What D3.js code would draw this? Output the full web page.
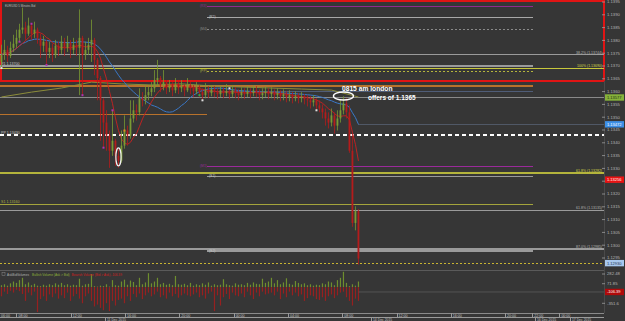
<!DOCTYPE html>
<html>
<head>
<meta charset="utf-8">
<script src="https://cdn.jsdelivr.net/npm/d3@7"></script>
<style>
html, body { margin: 0; padding: 0; background: #363636; overflow: hidden; }
svg { display: block; font-family: "Liberation Sans", Arial, sans-serif; }
</style>
</head>
<body>
<div id="chart"></div>
<script>
// EUR/USD bars (open of a bar = close of the one before)
var firstOpen = 1.13716;
var barStart = 6.86, barHours = 0.221;   // hours from day 1 00:00
var closes = [1.13743,1.13763,1.13739,1.13771,1.13787,1.13810,1.13842,1.13850,1.13826,1.13858,
  1.13826,1.13842,1.13810,1.13779,1.13795,1.13755,1.13771,1.13743,1.13779,1.13763,
  1.13795,1.13771,1.13791,1.13763,1.13783,1.13771,1.13810,1.13743,1.13763,1.13783,
  1.13802,1.13724,1.13653,1.13566,1.13479,1.13428,1.13369,1.13408,1.13349,1.13330,
  1.13389,1.13448,1.13428,1.13495,1.13527,1.13519,1.13574,1.13566,1.13586,1.13598,
  1.13613,1.13645,1.13653,1.13625,1.13637,1.13613,1.13625,1.13605,1.13629,1.13613,
  1.13621,1.13605,1.13625,1.13613,1.13601,1.13617,1.13598,1.13586,1.13605,1.13594,
  1.13609,1.13598,1.13590,1.13605,1.13594,1.13601,1.13590,1.13605,1.13594,1.13586,
  1.13598,1.13590,1.13601,1.13594,1.13605,1.13598,1.13586,1.13594,1.13601,1.13590,
  1.13598,1.13586,1.13594,1.13582,1.13590,1.13578,1.13586,1.13574,1.13582,1.13574,
  1.13578,1.13570,1.13566,1.13558,1.13566,1.13546,1.13534,1.13519,1.13495,1.13479,
  1.13507,1.13467,1.13495,1.13527,1.13554,1.13519,1.13369,1.13087,1.13133,1.12948];
var highs = [1.13783,1.13802,1.13779,1.13795,1.13822,1.13842,1.13865,1.13928,1.13873,1.13889,
  1.13865,1.13873,1.13850,1.13826,1.13818,1.13802,1.13795,1.13787,1.13802,1.13795,
  1.13818,1.13810,1.13818,1.13802,1.13810,1.13802,1.13921,1.13818,1.13795,1.13810,
  1.13881,1.13810,1.13731,1.13661,1.13574,1.13527,1.13448,1.13527,1.13416,1.13377,
  1.13448,1.13507,1.13467,1.13566,1.13566,1.13550,1.13613,1.13598,1.13625,1.13621,
  1.13637,1.13684,1.13724,1.13661,1.13684,1.13645,1.13645,1.13637,1.13653,1.13637,
  1.13645,1.13629,1.13653,1.13637,1.13625,1.13637,1.13625,1.13613,1.13633,1.13621,
  1.13625,1.13621,1.13613,1.13621,1.13617,1.13629,1.13613,1.13625,1.13617,1.13609,
  1.13617,1.13613,1.13621,1.13613,1.13625,1.13621,1.13609,1.13613,1.13621,1.13613,
  1.13617,1.13609,1.13613,1.13605,1.13609,1.13601,1.13605,1.13598,1.13601,1.13594,
  1.13598,1.13590,1.13586,1.13582,1.13586,1.13574,1.13566,1.13550,1.13534,1.13519,
  1.13534,1.13519,1.13527,1.13566,1.13582,1.13574,1.13546,1.13436,1.13152,1.13141];
var lows = [1.13692,1.13724,1.13716,1.13731,1.13755,1.13771,1.13795,1.13826,1.13802,1.13818,
  1.13802,1.13810,1.13787,1.13731,1.13755,1.13704,1.13731,1.13716,1.13731,1.13739,
  1.13747,1.13739,1.13755,1.13731,1.13747,1.13739,1.13586,1.13586,1.13724,1.13743,
  1.13716,1.13664,1.13566,1.13408,1.13381,1.13369,1.13302,1.13349,1.13310,1.13302,
  1.13322,1.13377,1.13389,1.13416,1.13479,1.13487,1.13507,1.13542,1.13550,1.13566,
  1.13582,1.13598,1.13621,1.13598,1.13605,1.13590,1.13598,1.13582,1.13594,1.13590,
  1.13598,1.13582,1.13598,1.13590,1.13578,1.13590,1.13578,1.13566,1.13574,1.13574,
  1.13582,1.13578,1.13570,1.13578,1.13574,1.13582,1.13570,1.13578,1.13574,1.13566,
  1.13574,1.13570,1.13578,1.13574,1.13582,1.13578,1.13566,1.13570,1.13578,1.13570,
  1.13574,1.13566,1.13570,1.13562,1.13566,1.13558,1.13562,1.13554,1.13562,1.13554,
  1.13558,1.13550,1.13542,1.13534,1.13542,1.13527,1.13519,1.13495,1.13467,1.13456,
  1.13464,1.13436,1.13448,1.13479,1.13511,1.13495,1.13361,1.13072,1.13058,1.12924];
var bidNow = 1.13256;

// AskBidVolumes indicator, per bar
var bullVol = [40,60,30,80,120,90,150,200,60,100, 40,70,30,20,50,30,60,40,80,50,
  90,40,60,30,50,40,180,30,60,70, 280,20,10,30,20,60,10,150,40,30,
  120,160,50,140,110,40,200,60,100,300, 80,120,200,60,90,50,70,40,240,60,
  50,70,40,90,30,60,40,80,50,100, 30,60,40,50,170,60,40,30,80,50,
  60,40,90,50,100,70,60,180,90,120, 200,80,150,60,100,190,70,50,130,90,
  60,80,40,60,30,50,40,80,60,120, 100,40,150,200,330,90,20,60,30,120];
var bearVol = [200,100,150,80,120,60,90,150,300,120, 180,100,540,260,200,300,160,220,140,250,
  180,240,120,300,200,150,250,350,200,140, 300,420,380,450,500,350,520,300,400,280,
  250,350,200,300,150,220,140,260,180,120, 200,160,100,220,180,250,120,200,150,230,
  180,140,180,200,160,120,220,180,250,140, 100,520,180,400,220,150,260,120,180,200,
  140,220,100,180,260,120,200,100,160,140, 120,180,100,260,140,220,100,180,120,200,
  160,300,240,180,200,260,280,220,300,200, 160,240,180,120,100,220,300,400,250,300];
var volNow = -106.39;

// slow moving average
var slowIdx = [0,10,20,30,40,50,60,70,80,90,100,110,119];
var slowVals = [1.13579,1.13598,1.13614,1.13637,1.13630,1.13626,1.13630,1.13622,1.13618,1.13614,1.13610,1.13606,1.13579];

// levels
var fibPrices = [1.13744, 1.13690, 1.13282, 1.13135, 1.12985];
var fibLabels = ["38.2% (1.13744)", "100% (1.13690)", "61.8% (1.13282)", "61.8% (1.13135)", "87.0% (1.12985)"];
var dayPivPrices = [1.13700, 1.13430, 1.13160];
var dayPivLabels = ["R1 1.13700", "PP 1.13430", "S1 1.13160"];
var sessPrices = [1.13932, 1.13890, 1.13841, 1.13680, 1.13600, 1.13308, 1.13268, 1.12977];
var sessLabels = ["(R3)", "(R2)", "(M4)", "(PP)", "", "(M1)", "(S1)", "(S2)"];
var sessStart = 22, sessEnd = 46;
var boxTop = 1.13954, boxBottom = 1.13641;
var levelPrices = [1.13622, 1.13509, 1.13577, 1.12930];

// fractal / signal marks
var markIdx = [0, 6, 10, 15, 27, 34, 37, 41, 66, 67, 76, 105];
var markPrice = [1.13692, 1.13795, 1.13865, 1.13704, 1.13586, 1.13381, 1.13527, 1.13448, 1.13586, 1.13566, 1.13613, 1.13527];
var markKind = ["entry","swing","swing","swing","swing","swing","swing","stop","signal","entry","entry","entry"];

// notes
var circleIdx = [39, 114];
var circlePrice = [1.13345, 1.13583];
var noteLines = ["0815 am london", "offers of 1.1365"];

// axes
var priceTicks = d3.range(0, 21).map(function(k){ return 1.1295 + k * 0.0005; });
var indTicks = [282.48, 71.85, -351.6];
var firstTime = "06:00";
var timeHours = [8, 12, 16, 20, 24, 28, 32, 36, 40, 44, 46, 48];
var timeLabels = ["08:00","12:00","16:00","20:00","00:00","04:00","08:00","12:00","16:00","20:00","22:00","00:00"];
var dateHours = [14.63, 34.23, 46.31, 48.89];
var dateLabels = ["11 Dec 2015", "14 Dec 2015", "16 Dec 2015", "17 Dec 2015"];

var W = 625, H = 321, plotW = 604;
var svg = d3.select("#chart").append("svg").attr("width", W).attr("height", H);
svg.append("rect").attr("width", W).attr("height", H).attr("fill", "#363636");

var x = d3.scaleLinear().domain([6.75, 51.25]).range([0, plotW]);
var y = d3.scaleLinear().domain([1.1295, 1.1395]).range([258, 2]);
var yv = d3.scaleLinear().domain([-351.6, 282.48]).range([303.3, 274]);
var f5 = d3.format(".5f");

var bars = closes.map(function(c, i) {
  return { i: i, t: barStart + i * barHours, o: i ? closes[i - 1] : firstOpen, h: highs[i], l: lows[i], c: c };
});

function hline(g, p, x0, x1, col, w, dash) {
  g.append("line").attr("x1", x0).attr("x2", x1).attr("y1", y(p)).attr("y2", y(p))
    .attr("stroke", col).attr("stroke-width", w).attr("stroke-dasharray", dash || null);
}

var lv = svg.append("g").attr("shape-rendering", "crispEdges");

// red box
lv.append("rect").attr("x", 1).attr("y", y(boxTop)).attr("width", plotW - 1).attr("height", y(boxBottom) - y(boxTop))
  .attr("fill", "none").attr("stroke", "#e01414").attr("stroke-width", 1.3);

// session pivots
var sessCol = ["#8e2c8e", "#a8a8a8", "#8a8a8a", "#b4b43c", "#4f5d78", "#9a2a9a", "#9a9a9a", "#9a9a9a"];
var sessW = [1.2, 1.2, 1, 1, 1.2, 1.2, 1.8, 1.8];
var sessDash = [null, null, "2,2", "2,2", null, null, null, null];
sessPrices.forEach(function(p, k) {
  hline(lv, p, x(sessStart), x(sessEnd), sessCol[k], sessW[k], sessDash[k]);
  var grey = sessCol[k] === "#9a9a9a" || sessCol[k] === "#a8a8a8";
  svg.append("text").attr("x", grey ? x(sessStart) + 2 : x(sessStart) - 7).attr("y", y(p) + 0.5)
    .attr("fill", grey ? "#c8c8c8" : sessCol[k]).attr("font-size", 3.4).text(sessLabels[k]);
});

// other levels
hline(lv, levelPrices[0], 0, x(sessEnd), "#b8722c", 1.2);
hline(lv, levelPrices[1], 0, x(sessStart), "#b8722c", 1.2);
hline(lv, levelPrices[2], 0, plotW, "#8a8a8a", 1);
hline(lv, levelPrices[3], 0, plotW, "#c8b432", 1, "2,2");

// fibonacci levels
var fibCol = ["#9a9a9a", "#c8c83c", "#b4b43c", "#9a9a9a", "#9a9a9a"];
fibPrices.forEach(function(p, k) {
  hline(lv, p, 0, plotW, fibCol[k], 1.2);
  svg.append("text").attr("x", 602).attr("y", y(p) - 1.2).attr("text-anchor", "end")
    .attr("fill", k === 1 || k === 2 ? "#d8d84a" : "#b4b4b4").attr("font-size", 3.5).text(fibLabels[k]);
});

// day pivots
var dayCol = ["#9a9a9a", "#ffffff", "#a4a43c"];
hline(lv, dayPivPrices[0], 0, x(sessEnd), dayCol[0], 1.2);
hline(lv, dayPivPrices[1], 0, plotW, dayCol[1], 1.4, "4,3");
hline(lv, dayPivPrices[2], 0, x(sessEnd), dayCol[2], 1.3);
dayPivPrices.forEach(function(p, k) {
  svg.append("text").attr("x", 1).attr("y", y(p) - 1.3).attr("fill", k === 2 ? "#b0b040" : "#c8c8c8")
    .attr("font-size", 3.6).text(dayPivLabels[k]);
});

// moving averages
function sma(arr, n) {
  return arr.map(function(v, i) { return d3.mean(arr.slice(Math.max(0, i - n + 1), i + 1)); });
}
var fast = sma(closes, 8), slow = sma(closes, 24);
var line = d3.line().x(function(d) { return x(d[0]); }).y(function(d) { return y(d[1]); });
svg.append("path").attr("d", line(slowIdx.map(function(i, k) { return [barStart + i * barHours, slowVals[k]]; })))
  .attr("fill", "none").attr("stroke", "#8c8c3a").attr("stroke-width", 1);
var lastBlue = slow[slow.length - 1];
hline(lv, lastBlue, x(bars[bars.length - 1].t), plotW, "#505866", 1);
svg.append("path").attr("d", line(bars.map(function(b) { return [b.t, slow[b.i]]; })))
  .attr("fill", "none").attr("stroke", "#3a78c8").attr("stroke-width", 1);
svg.append("path").attr("d", line(bars.map(function(b) { return [b.t, fast[b.i]]; })))
  .attr("fill", "none").attr("stroke", "#cc2020").attr("stroke-width", 0.9);

// candles
var cg = svg.append("g");
var col = function(b) { return b.c >= b.o ? "#7a9a34" : "#b41c1c"; };
cg.selectAll(".wick").data(bars).enter().append("line")
  .attr("x1", function(b) { return x(b.t); }).attr("x2", function(b) { return x(b.t); })
  .attr("y1", function(b) { return y(b.h); }).attr("y2", function(b) { return y(b.l); })
  .attr("stroke", col).attr("stroke-width", 0.8);
cg.selectAll(".body").data(bars).enter().append("rect")
  .attr("x", function(b) { return x(b.t) - 0.9; }).attr("width", 1.8)
  .attr("y", function(b) { return y(Math.max(b.o, b.c)); })
  .attr("height", function(b) { return Math.max(0.8, y(Math.min(b.o, b.c)) - y(Math.max(b.o, b.c))); })
  .attr("fill", col);

// marks
var markCol = { swing: "#b030b0", entry: "#e0e0e0", stop: "#e08a20", signal: "#30b050" };
markIdx.forEach(function(i, k) {
  svg.append("rect").attr("x", x(barStart + i * barHours) - 1).attr("y", y(markPrice[k]) - 1)
    .attr("width", 2).attr("height", 2).attr("fill", markCol[markKind[k]]);
});

// circled spots and note
svg.append("ellipse").attr("cx", x(barStart + circleIdx[0] * barHours)).attr("cy", y(circlePrice[0]))
  .attr("rx", 2.6).attr("ry", 9).attr("fill", "none").attr("stroke", "#f0f0f0").attr("stroke-width", 1.2);
var ncx = x(barStart + circleIdx[1] * barHours), ncy = y(circlePrice[1]);
svg.append("ellipse").attr("cx", ncx).attr("cy", ncy).attr("rx", 10).attr("ry", 4)
  .attr("fill", "none").attr("stroke", "#ffffff").attr("stroke-width", 1.4);
svg.append("text").attr("x", ncx - 1.5).attr("y", ncy - 5).attr("fill", "#fff").attr("font-weight", "bold")
  .attr("font-size", 6.7).text(noteLines[0]);
svg.append("text").attr("x", ncx + 24.5).attr("y", ncy + 4).attr("fill", "#fff").attr("font-weight", "bold")
  .attr("font-size", 6.5).text(noteLines[1]);

// title
svg.append("text").attr("x", 5).attr("y", 6.5).attr("fill", "#bdbdbd").attr("font-size", 2.8).text("EUR/USD 5 Minutes Bid");

// price axis
var ax = svg.append("g");
lv.append("line").attr("x1", plotW).attr("x2", plotW).attr("y1", y(boxBottom)).attr("y2", 313).attr("stroke", "#4a4a4a");
priceTicks.forEach(function(p) {
  ax.append("line").attr("x1", 602).attr("x2", 605).attr("y1", y(p)).attr("y2", y(p)).attr("stroke", "#aaa").attr("stroke-width", 0.7);
  ax.append("text").attr("x", 607).attr("y", y(p)).attr("dy", "0.35em").attr("fill", "#b4b4b4").attr("font-size", 4.2).text(p.toFixed(4));
});
function flag(yy, txt, bg, fg) {
  ax.append("rect").attr("x", 605).attr("y", yy - 3.2).attr("width", 19).attr("height", 6.4).attr("fill", bg);
  ax.append("text").attr("x", 607).attr("y", yy).attr("dy", "0.35em").attr("fill", fg).attr("font-size", 4).text(txt);
}
flag(y(levelPrices[2]), f5(levelPrices[2]), "#86b23a", "#1e2a10");
flag(y(lastBlue), f5(lastBlue), "#3d8fe6", "#ffffff");
flag(y(bidNow), f5(bidNow), "#e81212", "#ffffff");
flag(y(levelPrices[3]), f5(levelPrices[3]), "#a8c8ee", "#24344a");

// volume window
svg.append("line").attr("x1", 0).attr("x2", plotW).attr("y1", 270.5).attr("y2", 270.5).attr("stroke", "#5a5a5a");
var vg = svg.append("g");
vg.selectAll(".bu").data(bars).enter().append("rect")
  .attr("x", function(b) { return x(b.t) - 0.6; }).attr("width", 1.2)
  .attr("y", function(b) { return yv(bullVol[b.i]); })
  .attr("height", function(b) { return yv(0) - yv(bullVol[b.i]); }).attr("fill", "#6e8e2e");
vg.selectAll(".be").data(bars).enter().append("rect")
  .attr("x", function(b) { return x(b.t) - 0.6; }).attr("width", 1.2)
  .attr("y", yv(0))
  .attr("height", function(b) { return yv(-bearVol[b.i]) - yv(0); }).attr("fill", "#962020");
svg.append("line").attr("x1", x(bars[bars.length - 1].t)).attr("x2", plotW).attr("y1", yv(volNow)).attr("y2", yv(volNow))
  .attr("stroke", "#5c5c5c").attr("stroke-width", 0.8);
svg.append("rect").attr("x", 2).attr("y", 272.6).attr("width", 3).attr("height", 3).attr("fill", "none").attr("stroke", "#888").attr("stroke-width", 0.5);
var hd = svg.append("text").attr("x", 7).attr("y", 275.6).attr("font-size", 3.2);
hd.append("tspan").attr("fill", "#b0b0b0").text("AskBidVolumes ");
hd.append("tspan").attr("fill", "#8fb03a").attr("dx", 2).text("Bullish Volume (Ask > Bid)");
hd.append("tspan").attr("fill", "#d02020").attr("dx", 2).text("Bearish Volume (Bid > Ask)  " + volNow.toFixed(2));
indTicks.forEach(function(v) {
  ax.append("line").attr("x1", 602).attr("x2", 605).attr("y1", yv(v)).attr("y2", yv(v)).attr("stroke", "#aaa").attr("stroke-width", 0.7);
  ax.append("text").attr("x", 607).attr("y", yv(v)).attr("dy", "0.35em").attr("fill", "#b4b4b4").attr("font-size", 4.2).text(v);
});
flag(yv(volNow), volNow.toFixed(2), "#b00a0a", "#ffffff");

// time axis
var tg = svg.append("g").attr("shape-rendering", "crispEdges");
tg.append("line").attr("x1", 0).attr("x2", plotW).attr("y1", 313).attr("y2", 313).attr("stroke", "#8a8a8a");
tg.append("line").attr("x1", 0).attr("x2", plotW).attr("y1", 317.5).attr("y2", 317.5).attr("stroke", "#9a9a9a");
tg.append("text").attr("x", 1).attr("y", 316.6).attr("fill", "#c0c0c0").attr("font-size", 3.6).text(firstTime);
timeHours.forEach(function(h, k) {
  tg.append("line").attr("x1", x(h)).attr("x2", x(h)).attr("y1", 313).attr("y2", 317.5).attr("stroke", "#9a9a9a");
  tg.append("text").attr("x", x(h) + 1.5).attr("y", 316.6).attr("fill", "#c0c0c0").attr("font-size", 3.6).text(timeLabels[k]);
});
dateHours.forEach(function(h, k) {
  tg.append("line").attr("x1", x(h) - 1).attr("x2", x(h) - 1).attr("y1", 317.5).attr("y2", 321).attr("stroke", "#9a9a9a");
  tg.append("text").attr("x", x(h)).attr("y", 320.8).attr("fill", "#c0c0c0").attr("font-size", 3.4).text(dateLabels[k]);
});
</script>
</body>
</html>
